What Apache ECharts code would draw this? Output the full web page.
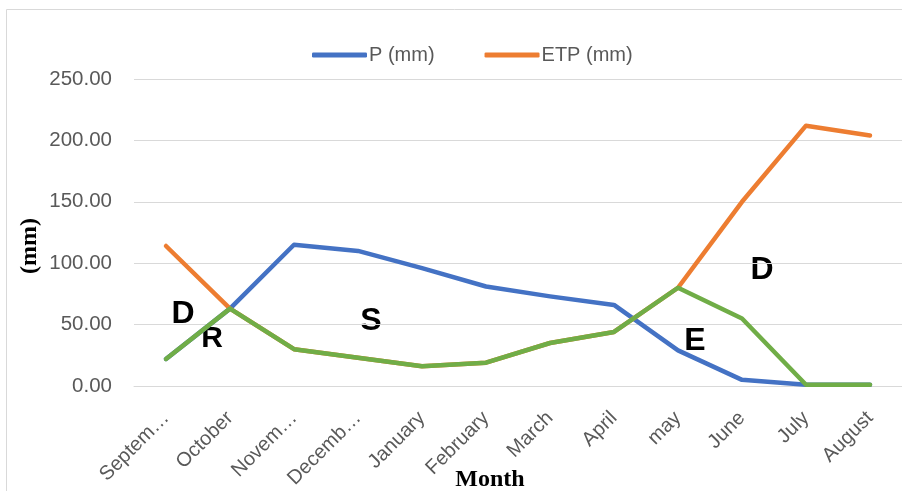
<!DOCTYPE html>
<html>
<head>
<meta charset="utf-8">
<script src="https://cdn.jsdelivr.net/npm/echarts@6/dist/echarts.min.js"></script>
<style>html,body{margin:0;padding:0;background:#fff}#c{width:902px;height:491px}</style>
</head>
<body>
<div id="c"></div>
<script>
var categories = ['September','October','November','December','January','February','March','April','may','June','July','August'];
var tickLabels = ['Septem…','October','Novem…','Decemb…','January','February','March','April','may','June','July','August'];
var pValues   = [22, 63, 115, 110, 96, 81, 73, 66, 29, 5, 1, 1];
var etpValues = [114, 63, 30, 23, 16, 19, 35, 44, 80, 150, 212, 204];
var etrValues = [22, 63, 30, 23, 16, 19, 35, 44, 80, 55, 1, 1];
var yTicks = { min: 0, max: 250, interval: 50 };

var chart = echarts.init(document.getElementById('c'));
var sans = 'Liberation Sans';
function lineSeries(name, data, color) {
  return {
    name: name, type: 'line', data: data, symbol: 'none',
    lineStyle: { color: color, width: 4.5, cap: 'round', join: 'round' },
    itemStyle: { color: color }
  };
}
chart.setOption({
  animation: false,
  grid: { left: 134, right: -2, top: 79, bottom: 105, containLabel: false },
  legend: {
    data: ['P (mm)', 'ETP (mm)'],
    left: 307, top: 40,
    itemWidth: 55, itemHeight: 5, itemGap: 50,
    icon: 'roundRect',
    textStyle: { color: '#595959', fontSize: 20, fontFamily: sans, padding: [0,0,0,-3] }
  },
  xAxis: {
    type: 'category', data: categories, boundaryGap: true,
    axisLine: { show: true, lineStyle: { color: '#d9d9d9', width: 1 } },
    axisTick: { show: false },
    axisLabel: {
      rotate: 45, interval: 0, margin: 29, color: '#595959', fontSize: 20, fontFamily: sans,
      formatter: function (v, i) { return tickLabels[i]; }
    }
  },
  yAxis: {
    type: 'value', min: yTicks.min, max: yTicks.max, interval: yTicks.interval,
    axisLine: { show: false }, axisTick: { show: false },
    splitLine: { lineStyle: { color: '#d9d9d9', width: 1 } },
    axisLabel: { margin: 22, color: '#595959', fontSize: 20.5, fontFamily: sans,
      formatter: function (v) { return v.toFixed(2); } }
  },
  series: [
    lineSeries('P (mm)', pValues, '#4472C4'),
    lineSeries('ETP (mm)', etpValues, '#ED7D31'),
    lineSeries('ETR (mm)', etrValues, '#70AD47')
  ],
  graphic: [
    { type: 'rect', shape: { x: 6.5, y: 9.5, width: 1000, height: 1000 }, style: { fill: 'none', stroke: '#d9d9d9', lineWidth: 1 }, silent: true, z: -1 },
    { type: 'text', x: 30, y: 246, rotation: Math.PI / 2, style: { text: '(mm)', font: 'bold 24px "Liberation Serif"', fill: '#000', textAlign: 'center', textVerticalAlign: 'middle' } },
    { type: 'text', x: 490, y: 480, style: { text: 'Month', font: 'bold 24px "Liberation Serif"', fill: '#000', textAlign: 'center', textVerticalAlign: 'middle' } },
    { type: 'text', x: 183, y: 314, style: { text: 'D', font: 'bold 32px "Liberation Sans"', fill: '#000', textAlign: 'center', textVerticalAlign: 'middle' } },
    { type: 'text', x: 212, y: 339, style: { text: 'R', font: 'bold 30px "Liberation Sans"', fill: '#000', textAlign: 'center', textVerticalAlign: 'middle' } },
    { type: 'text', x: 371, y: 321, style: { text: 'S', font: 'bold 32px "Liberation Sans"', fill: '#000', textAlign: 'center', textVerticalAlign: 'middle' } },
    { type: 'text', x: 695, y: 341, style: { text: 'E', font: 'bold 32px "Liberation Sans"', fill: '#000', textAlign: 'center', textVerticalAlign: 'middle' } },
    { type: 'text', x: 762, y: 270, style: { text: 'D', font: 'bold 32px "Liberation Sans"', fill: '#000', textAlign: 'center', textVerticalAlign: 'middle' } }
  ]
});
</script>
</body>
</html>
